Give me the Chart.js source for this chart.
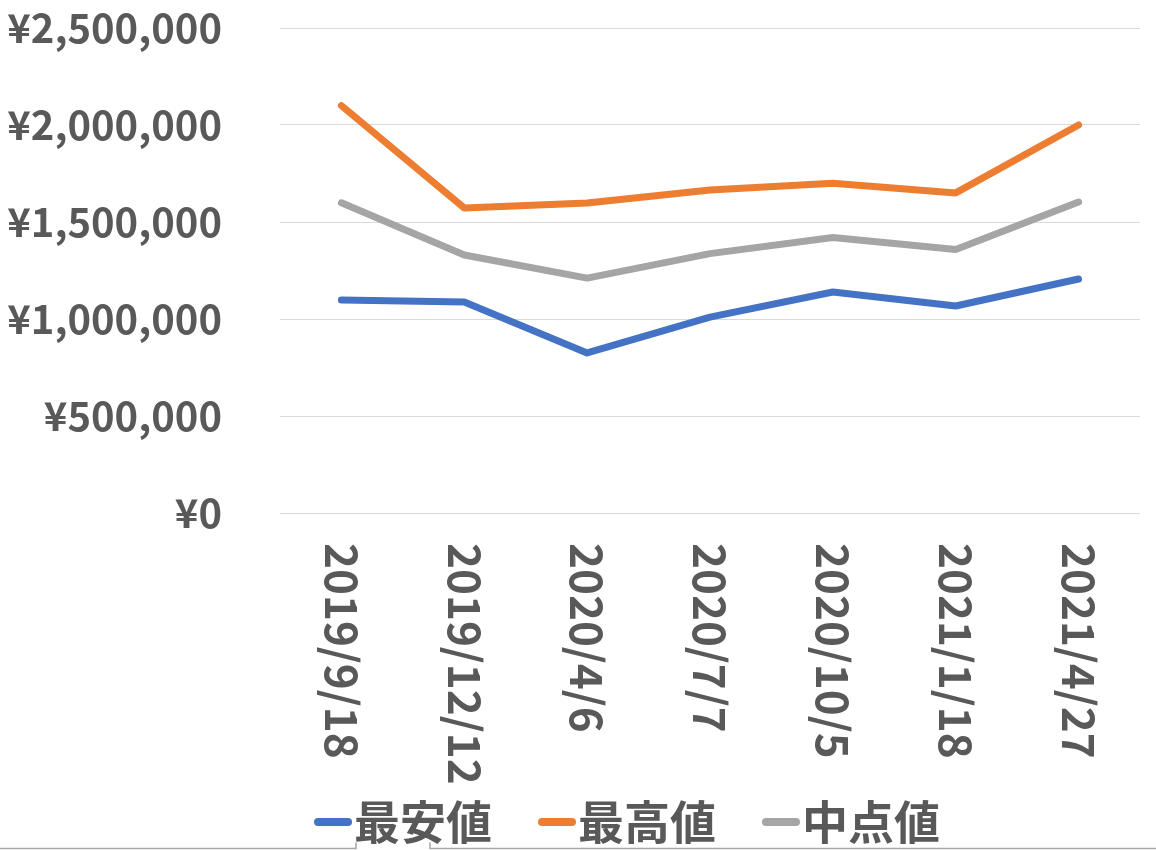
<!DOCTYPE html>
<html>
<head>
<meta charset="utf-8">
<script src="https://cdn.jsdelivr.net/npm/chart.js@4.4.0/dist/chart.umd.min.js"></script>
<style>
  html, body { margin: 0; padding: 0; background: #ffffff; }
  #wrap { width: 1156px; height: 850px; }
</style>
</head>
<body>
<div id="wrap"><canvas id="myChart"></canvas></div>
<script>
var dates = ['2019/9/18', '2019/12/12', '2020/4/6', '2020/7/7', '2020/10/5', '2021/1/18', '2021/4/27'];
var lowPrices = [1098000, 1088000, 825000, 1010000, 1139000, 1067000, 1206000];
var highPrices = [2100000, 1572000, 1598000, 1665000, 1700000, 1650000, 2000000];
var midPrices = [1599000, 1330000, 1211000, 1337000, 1420000, 1358000, 1603000];
var seriesNames = ['最安値', '最高値', '中点値'];
var seriesColors = ['#4472c4', '#ed7d31', '#a5a5a5'];

var textColor = '#595959';
var fontFamily = '"Noto Sans CJK JP", "Noto Sans", sans-serif';

function yen(v) {
    return '¥' + v.toLocaleString('en-US');
}

function makeDataset(i, values) {
    return {
        label: seriesNames[i],
        data: values,
        borderColor: seriesColors[i],
        backgroundColor: seriesColors[i],
        borderWidth: 7,
        borderCapStyle: 'round',
        borderJoinStyle: 'round',
        pointRadius: 0,
        tension: 0
    };
}

// x labels read top to bottom, and the legend sits under them
var excelLook = {
    id: 'excelLook',
    afterDraw: function (chart) {
        var ctx = chart.ctx;
        var xScale = chart.scales.x;
        ctx.save();
        ctx.fillStyle = textColor;
        ctx.font = 'bold 44px ' + fontFamily;
        ctx.textAlign = 'left';
        ctx.textBaseline = 'middle';
        for (var i = 0; i < dates.length; i++) {
            ctx.save();
            ctx.translate(xScale.getPixelForValue(i), xScale.top + 30);
            ctx.rotate(Math.PI / 2);
            ctx.fillText(dates[i], 0, 0);
            ctx.restore();
        }

        // legend
        var sets = chart.data.datasets;
        ctx.font = 'bold 46px ' + fontFamily;
        var markW = 38, gap = 2, spacing = 46;
        var x = 314;
        var y = 822;
        for (var k = 0; k < sets.length; k++) {
            ctx.strokeStyle = sets[k].borderColor;
            ctx.lineWidth = 8;
            ctx.lineCap = 'round';
            ctx.beginPath();
            ctx.moveTo(x + 4, y);
            ctx.lineTo(x + markW - 4, y);
            ctx.stroke();
            x += markW + gap;
            ctx.fillStyle = textColor;
            ctx.fillText(sets[k].label, x, y);
            x += ctx.measureText(sets[k].label).width + spacing;
        }

        // cell border left under the chart
        ctx.strokeStyle = '#a6a6a6';
        ctx.lineWidth = 1.5;
        ctx.beginPath();
        ctx.moveTo(0, 848.5); ctx.lineTo(356, 848.5); ctx.lineTo(356, 843);
        ctx.moveTo(430, 843); ctx.lineTo(430, 848.5); ctx.lineTo(1156, 848.5);
        ctx.stroke();
        ctx.restore();
    }
};

var ctx = document.getElementById('myChart').getContext('2d');
var myChart = new Chart(ctx, {
    type: 'line',
    data: {
        labels: dates,
        datasets: [
            makeDataset(0, lowPrices),
            makeDataset(1, highPrices),
            makeDataset(2, midPrices)
        ]
    },
    options: {
        responsive: true,
        maintainAspectRatio: false,
        animation: false,
        layout: { padding: { top: 28, right: 16, bottom: 0, left: 0 } },
        plugins: {
            legend: { display: false },
            tooltip: { enabled: false }
        },
        scales: {
            x: {
                offset: true,
                grid: { display: false },
                border: { display: false },
                ticks: { display: false },
                afterFit: function (scale) {
                    scale.height = 337;
                    scale.paddingLeft = 0;
                    scale.paddingRight = 0;
                }
            },
            y: {
                min: 0,
                max: 2500000,
                grid: { color: '#d9d9d9', lineWidth: 1, drawTicks: false },
                border: { display: false },
                ticks: {
                    stepSize: 500000,
                    padding: 58,
                    color: textColor,
                    font: { family: fontFamily, size: 40, weight: 'bold' },
                    callback: function (v) { return yen(v); }
                },
                afterFit: function (scale) {
                    scale.width = 280;
                    scale.paddingTop = 0;
                    scale.paddingBottom = 0;
                }
            }
        }
    },
    plugins: [excelLook]
});
</script>
</body>
</html>
